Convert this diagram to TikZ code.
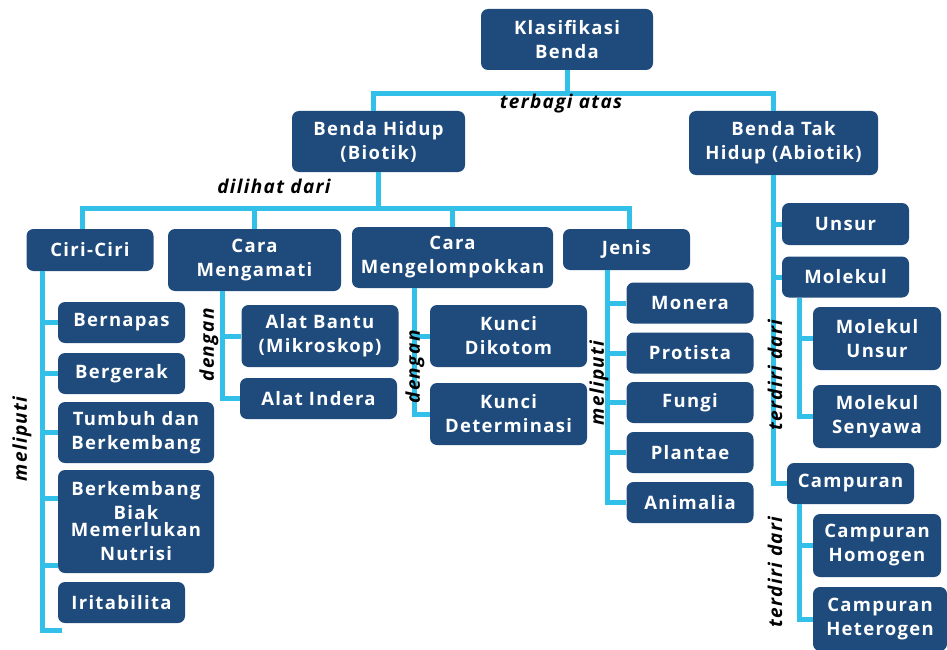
\documentclass[tikz,border=0pt]{standalone}
\usepackage{fontspec}
\setmainfont{Open Sans}[LetterSpace=7]
\definecolor{biru}{RGB}{31,75,124}
\definecolor{toska}{RGB}{51,192,232}
\begin{document}
\begin{tikzpicture}[x=1pt,y=-1pt,
kotak/.style={fill=biru,rounded corners=7pt,text=white,align=center,inner sep=0pt,font=\bfseries\fontsize{18.5}{24}\selectfont},
satu/.style={kotak,minimum width=127pt,minimum height=41pt},
dua/.style={kotak,minimum width=157pt,minimum height=62pt},
tiga/.style={kotak,minimum width=128pt,minimum height=63pt},
garis/.style={toska,line width=5pt},
ket/.style={font=\bfseries\itshape\fontsize{19}{20}\selectfont}]
\useasboundingbox (0,0) rectangle (947,650);
\node[kotak,minimum width=172pt,minimum height=61pt] (kb) at (567,39.5) {Klasifikasi\\Benda};
\node[kotak,minimum width=173pt,minimum height=61pt] (bh) at (378.5,141.5) {Benda Hidup\\(Biotik)};
\node[kotak,minimum width=189pt,minimum height=64pt] (bth) at (783.5,143) {Benda Tak\\Hidup (Abiotik)};
\node[satu,minimum height=42pt] (ciri) at (90,250) {Ciri-Ciri};
\node[kotak,minimum width=173pt,minimum height=62pt] (cm) at (254.5,260) {Cara\\Mengamati};
\node[kotak,minimum width=201pt,minimum height=61pt] (ck) at (452.5,257.5) {Cara\\Mengelompokkan};
\node[satu] (jenis) at (626.5,249.5) {Jenis};
\node[satu] (bernapas) at (121.5,322.5) {Bernapas};
\node[satu] (bergerak) at (121.5,373.5) {Bergerak};
\node[kotak,minimum width=156pt,minimum height=61pt] (tumbuh) at (136,432.5) {Tumbuh dan\\Berkembang};
\node[kotak,minimum width=156pt,minimum height=103pt] (biak) at (136,521.5) {Berkembang\\Biak\\[-7pt]Memerlukan\\Nutrisi};
\node[satu] (irit) at (121.5,602.5) {Iritabilita};
\node[dua] (bantu) at (320,336) {Alat Bantu\\(Mikroskop)};
\node[dua,minimum height=41pt] (indera) at (318.5,398.5) {Alat Indera};
\node[dua] (dikotom) at (508.5,336) {Kunci\\Dikotom};
\node[dua] (determinasi) at (508.5,414) {Kunci\\Determinasi};
\node[satu] (monera) at (690,303) {Monera};
\node[satu] (protista) at (690,353) {Protista};
\node[satu] (fungi) at (690,402.5) {Fungi};
\node[satu] (plantae) at (690,452.5) {Plantae};
\node[satu] (animalia) at (690,502.5) {Animalia};
\node[satu,minimum height=42pt] (unsur) at (845.5,224) {Unsur};
\node[satu] (molekul) at (845.5,277) {Molekul};
\node[tiga] (mu) at (877,338.5) {Molekul\\Unsur};
\node[tiga] (ms) at (877,416.5) {Molekul\\Senyawa};
\node[satu] (campuran) at (850.5,483.5) {Campuran};
\node[tiga] (homogen) at (877,545.5) {Campuran\\Homogen};
\node[tiga,minimum width=134pt,minimum height=64pt] (heterogen) at (880,619) {Campuran\\Heterogen};
\path (373,94) coordinate (a1) (773,94) coordinate (a2)
(82,208) coordinate (c1) (629,208) coordinate (c2)
(42,630) coordinate (t1) (222,0) coordinate (t2) (414,0) coordinate (t3)
(607,0) coordinate (t4) (773,0) coordinate (t5) (799,0) coordinate (t6)
([yshift=23.5pt]biak.west) coordinate (b1) ([yshift=-43.5pt]biak.west) coordinate (b2);
\draw[garis] (kb) -- (kb|-a1) (bh.north-|a1) |- (a2) -- (bth.north-|a2);
\draw[garis] (bh) -- (bh|-c1) (ciri.north-|c1) |- (c2) -- (jenis.north-|c2)
(cm.north) -- (cm.north|-c1) (ck.north) -- (ck.north|-c1);
\draw[garis] (ciri.south-|t1) -- (t1) -- ++(20,0);
\foreach \n in {bernapas.west,bergerak.west,tumbuh.west,b1,b2}
\draw[garis] (\n-|t1) -- (\n);
\draw[garis] (cm.south-|t2) |- (indera.west) (bantu.west-|t2) -- (bantu.west);
\draw[garis] (ck.south-|t3) |- (determinasi.west) (dikotom.west-|t3) -- (dikotom.west);
\draw[garis] (jenis.south-|t4) |- (animalia.west);
\foreach \n in {monera,protista,fungi,plantae}
\draw[garis] (\n.west-|t4) -- (\n.west);
\draw[garis] (bth.south-|t5) |- (campuran.west) (unsur.west-|t5) -- (unsur.west) (molekul.west-|t5) -- (molekul.west);
\draw[garis] (molekul.south-|t6) |- (ms.west) (mu.west-|t6) -- (mu.west);
\draw[garis] (campuran.south-|t6) |- (heterogen.west) (homogen.west-|t6) -- (homogen.west);
\node[ket] (l1) at (561,104) {terbagi atas};
\node[ket] (l2) at (274,186) {dilihat dari};
\node[ket,rotate=90] (l3) at (22,439) {meliputi};
\node[ket,rotate=90] (l4) at (209,345) {dengan};
\node[ket,rotate=90] (l5) at (415,367) {dengan};
\node[ket,rotate=90] (l6) at (599,383) {meliputi};
\node[ket,rotate=90] (l7) at (775,375) {terdiri dari};
\node[ket,rotate=90] (l8) at (775,572) {terdiri dari};
\end{tikzpicture}
\end{document}
